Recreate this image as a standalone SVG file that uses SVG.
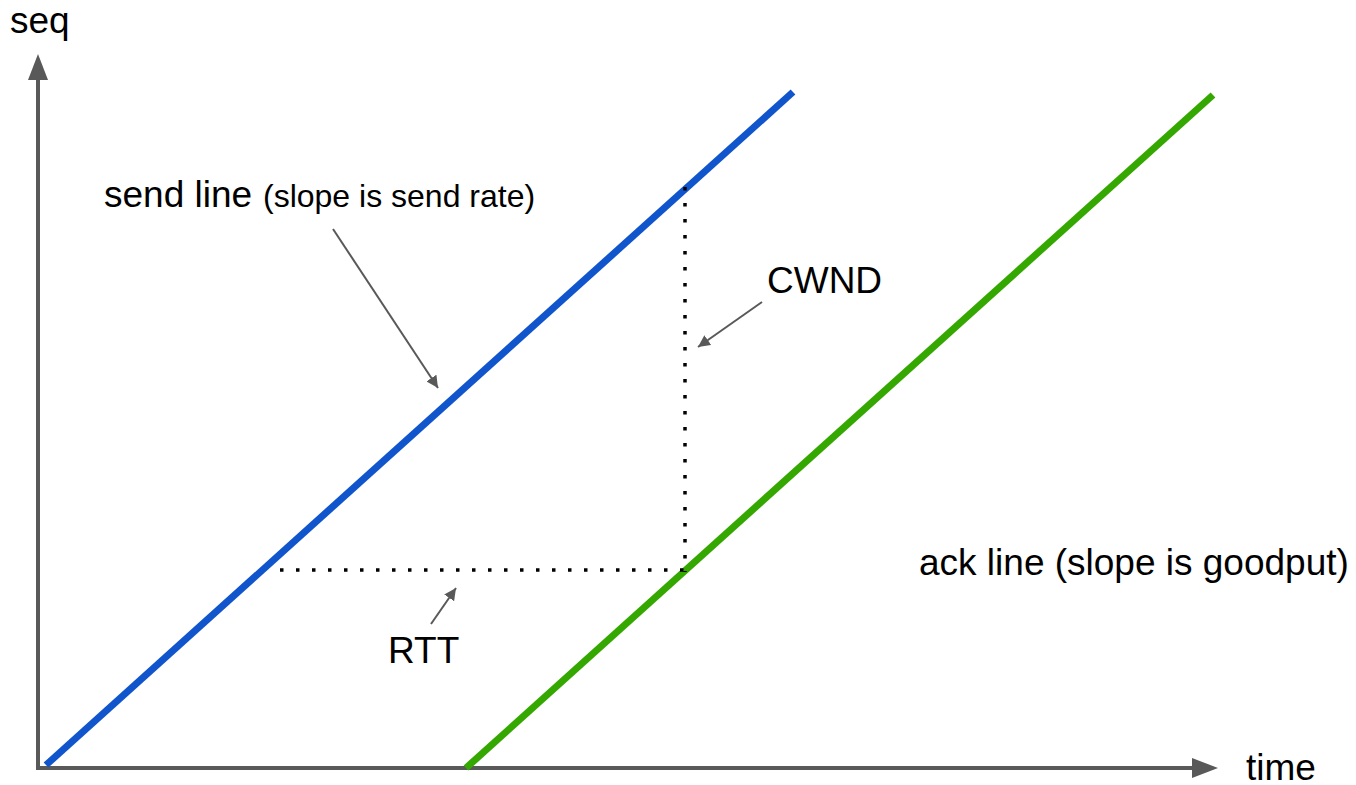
<svg xmlns="http://www.w3.org/2000/svg" width="1356" height="785" viewBox="0 0 1356 785">
<style>
.t{font-family:"Liberation Sans",Arial,sans-serif;fill:#000}
.big{font-size:37px}
.small{font-size:32px}
.axis{stroke:#595959;stroke-width:4;fill:none}
.note{stroke:#595959;stroke-width:2;fill:none}
.dot{stroke:#000;stroke-width:3.5;stroke-dasharray:3.5 12.5;fill:none}
</style>
<defs>
<marker id="ah" viewBox="0 0 10 10" refX="10" refY="5" markerWidth="6" markerHeight="6" orient="auto" markerUnits="strokeWidth"><path d="M0,0 L10,5 L0,10 Z" fill="#595959"/></marker>
</defs>
<rect width="1356" height="785" fill="#fff"/>
<g id="axes">
<line class="axis" x1="38" y1="770" x2="38" y2="78"/>
<polygon points="38,54 28,80 48,80" fill="#595959"/>
<line class="axis" x1="36" y1="768" x2="1194" y2="768"/>
<polygon points="1218,768 1192,758 1192,778" fill="#595959"/>
</g>
<g id="send-line"><line x1="46" y1="765" x2="793" y2="92" stroke="#1155cc" stroke-width="7"/></g>
<g id="ack-line"><line x1="466" y1="768" x2="1213" y2="95" stroke="#34a800" stroke-width="7"/></g>
<g id="connectors">
<line class="dot" x1="280" y1="570" x2="688" y2="570"/>
<line class="dot" x1="685" y1="187" x2="685" y2="572"/>
<line class="note" x1="333" y1="229" x2="438" y2="388" marker-end="url(#ah)"/>
<line class="note" x1="762" y1="302" x2="698" y2="347" marker-end="url(#ah)"/>
<line class="note" x1="431" y1="624" x2="456" y2="588" marker-end="url(#ah)"/>
</g>
<g id="labels">
<text id="seq" class="t big" x="10" y="33">seq</text>
<text id="time" class="t big" x="1246" y="780">time</text>
<text id="send" class="t" y="207"><tspan class="big" x="104">send line</tspan><tspan class="small" x="263">(slope is send rate)</tspan></text>
<text id="cwnd" class="t big" x="767" y="293">CWND</text>
<text id="rtt" class="t big" x="388" y="663">RTT</text>
<text id="ack" class="t big" x="919" y="575">ack line (slope is goodput)</text>
</g>
</svg>
